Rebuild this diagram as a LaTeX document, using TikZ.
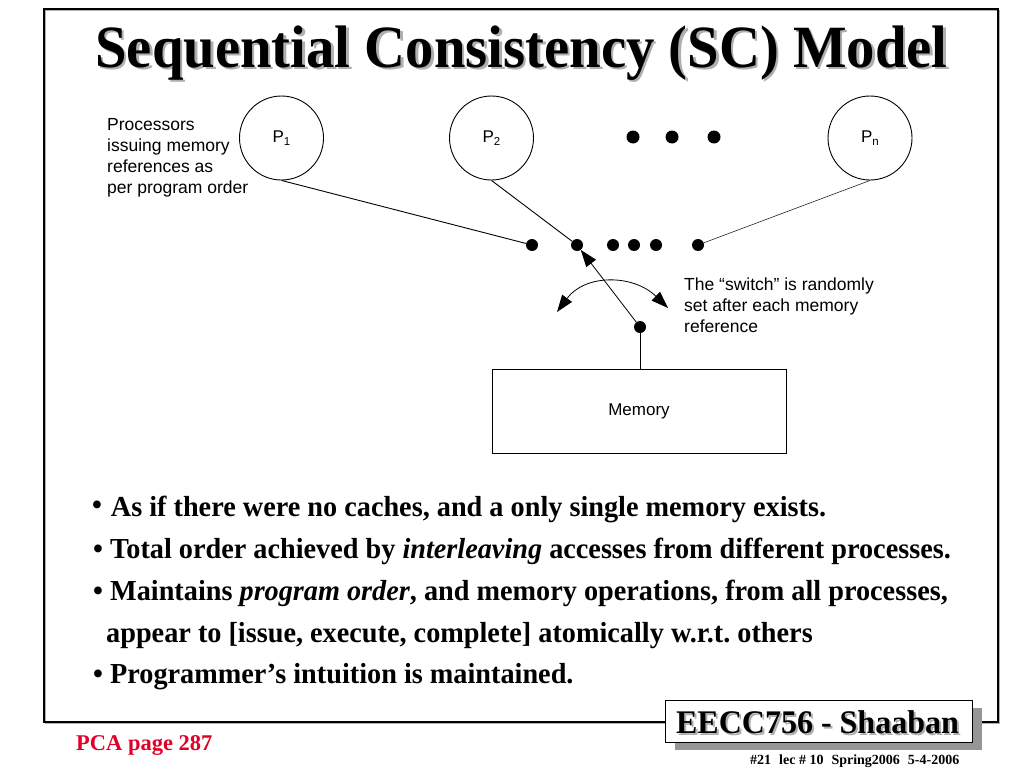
\documentclass[tikz,border=0pt]{standalone}
\usepackage{fontspec}
\setmainfont{Liberation Serif}
\newfontfamily\arial{Liberation Sans}
\usetikzlibrary{arrows.meta}
\frenchspacing
\definecolor{pcared}{RGB}{225,0,40}
\definecolor{shadowgray}{RGB}{150,150,150}
\definecolor{softgray}{RGB}{175,175,175}
\tikzset{
  dotnode/.style={circle,fill=black,inner sep=0pt,minimum size=12pt},
  bigdot/.style={circle,fill=black,inner sep=0pt,minimum size=13pt},
  proc/.style={circle,draw=black,line width=0.9pt,minimum size=84pt,inner sep=0pt,font=\arial\fontsize{17}{17}\selectfont},
  sans/.style={anchor=base west,inner sep=0pt,font=\arial\fontsize{17.5}{17.5}\selectfont},
  bul/.style={anchor=base west,inner sep=0pt,font=\fontsize{29}{29}\selectfont\bfseries},
  tipbig/.tip={Triangle[length=17pt,width=12pt]},
}
\newcommand{\sub}[1]{\raisebox{-0.35ex}{\fontsize{11.5}{11.5}\selectfont #1}}
\newcommand{\bx}[1]{\scalebox{0.974}[1]{#1}}
\begin{document}
\begin{tikzpicture}[x=1pt,y=-1pt]
\fill[white] (0,0) rectangle (1024,768);
\useasboundingbox (0,0) rectangle (1024,768);
% frame
\draw[draw=softgray,line width=1.2pt] (45.5,10.5) rectangle (999.5,723.5);
\draw[draw=black,line width=2.6pt] (44,9) rectangle (998,722);
% title
\node[anchor=base,inner sep=0pt,text=softgray,font=\fontsize{60}{60}\selectfont\bfseries] (titleshadow) at (524,69.5) {\scalebox{0.945}[1]{Sequential Consistency (SC) Model}};
\node[anchor=base,inner sep=0pt,font=\fontsize{60}{60}\selectfont\bfseries] (title) at (521.5,67) {\scalebox{0.945}[1]{Sequential Consistency (SC) Model}};
% processors
\node[proc] (p1) at (281.5,138) {P\sub{1}\hspace{4pt}};
\node[proc] (p2) at (491.5,138) {P\sub{2}\hspace{4pt}};
\node[proc] (pn) at (870,138) {P\sub{n}};
\node[bigdot] (e1) at (633,137) {};
\node[bigdot] (e2) at (672,137) {};
\node[bigdot] (e3) at (714,137) {};
% processors label
\node[sans] (t1) at (107,130) {Processors};
\node[sans] (t2) at (107,151) {issuing memory};
\node[sans] (t3) at (107,172) {references as};
\node[sans] (t4) at (107,193) {per program order};
% switch row
\node[dotnode] (d1) at (532,245) {};
\node[dotnode] (d2) at (577,245) {};
\node[dotnode] (d3) at (613,245) {};
\node[dotnode] (d4) at (634,245) {};
\node[dotnode] (d5) at (656,245) {};
\node[dotnode] (d6) at (698,245) {};
\draw[line width=0.9pt] (p1.south) -- (d1);
\draw[line width=0.9pt] (p2.south) -- (d2);
\draw[line width=0.5pt] (pn.south) -- (d6);
% switch
\node[dotnode] (sw) at (640,327) {};
\draw[line width=0.8pt,-tipbig] (sw) -- (d2);
\coordinate (cl) at (557,312);
\coordinate (cr) at (668,308);
\draw[line width=0.8pt,tipbig-tipbig] (cl) .. controls (585,274) and (633,274) .. (cr);
\node[sans] (s1) at (684,290) {The “switch” is randomly};
\node[sans] (s2) at (684,311) {set after each memory};
\node[sans] (s3) at (684,332) {reference};
% memory
\node[draw=black,line width=0.9pt,minimum width=294pt,minimum height=84pt,inner sep=0pt,font=\arial\fontsize{17}{17}\selectfont] (mem) at (639,411) {Memory\hspace{8pt}};
\draw[line width=0.8pt] (sw) -- (sw |- mem.north);
% bullets
\node[bul] (b1) at (92,516) {\bx{\raisebox{2pt}{•}\hspace{9pt}As if there were no caches, and a only single memory exists.}};
\node[bul] (b2) at (93,558) {\bx{• Total order achieved by \textit{interleaving} accesses from different processes.}};
\node[bul] (b3) at (93,600) {\bx{• Maintains \textit{program order}, and memory operations, from all processes,}};
\node[bul] (b4) at (106,642) {\bx{appear to [issue, execute, complete] atomically w.r.t. others}};
\node[bul] (b5) at (93,683) {\bx{• Programmer’s intuition is maintained.}};
% footer box
\fill[shadowgray] (675,708) rectangle (982,750);
\node[draw=black,fill=white,line width=1.1pt,minimum width=307pt,minimum height=42pt,inner sep=0pt,anchor=north west] (box) at (665,700) {};
\node[anchor=base,inner sep=0pt,text=softgray,font=\fontsize{33}{33}\selectfont\bfseries] (eeccs) at (819.5,735) {\scalebox{0.97}[1]{EECC756 - Shaaban}};
\node[anchor=base,inner sep=0pt,font=\fontsize{33}{33}\selectfont\bfseries] (eecc) at (817.5,733) {\scalebox{0.97}[1]{EECC756 - Shaaban}};
\node[anchor=base west,inner sep=0pt,font=\fontsize{14}{14}\selectfont\bfseries] (foot) at (750,764) {\#21\hspace{8pt}lec \# 10\hspace{8pt}Spring2006\hspace{8pt}5-4-2006};
\node[anchor=base west,inner sep=0pt,text=pcared,font=\fontsize{22.5}{22.5}\selectfont\bfseries] (pca) at (76,750) {PCA page 287};
\end{tikzpicture}
\end{document}
